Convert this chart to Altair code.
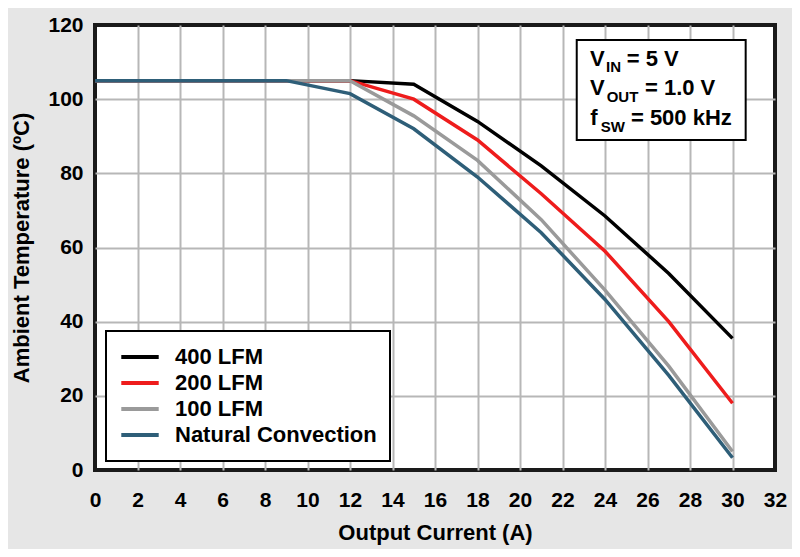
import altair as alt
import pandas as pd

# ---- data ----
current = [0, 3, 6, 9, 12, 15, 18, 21, 24, 27, 30]
lfm400 = [105, 105, 105, 105, 105, 104, 94, 82, 68.5, 53, 35.5]
lfm200 = [105, 105, 105, 105, 105, 100, 89, 74.5, 59, 40, 18]
lfm100 = [105, 105, 105, 105, 105, 95.5, 83.5, 67.5, 48.5, 28, 5]
natural = [105, 105, 105, 105, 101.5, 92, 79, 64, 46, 25.5, 3.3]
series_names = ["400 LFM", "200 LFM", "100 LFM", "Natural Convection"]
series_colors = ["#000000", "#ee1c1c", "#9a9a9a", "#2e5e78"]
x_ticks = list(range(0, 33, 2))
y_ticks = list(range(0, 121, 20))

# annotation box text (main text and subscripts)
ann_text = ["V", "= 5 V", "V", "= 1.0 V", "f", "= 500 kHz"]
ann_x = [23.29, 25.02, 23.29, 25.88, 23.30, 25.22]
ann_y = [109.03, 109.03, 101.12, 101.12, 93.03, 93.03]
sub_text = ["IN", "OUT", "SW"]
sub_x = [24.05, 24.08, 23.80]
sub_y = [107.41, 99.32, 91.07]
box_x = [22.67]
box_x2 = [30.62]
box_y = [89.0]
box_y2 = [115.96]

FONT = "Liberation Sans"

rows = []
for name, vals in zip(series_names, [lfm400, lfm200, lfm100, natural]):
    for xv, yv in zip(current, vals):
        rows.append({"current": xv, "temp": yv, "series": name})
df = pd.DataFrame(rows)

ann_df = pd.DataFrame({"current": ann_x, "temp": ann_y, "txt": ann_text})
sub_df = pd.DataFrame({"current": sub_x, "temp": sub_y, "txt": sub_text})
box_df = pd.DataFrame({"current": box_x, "current2": box_x2, "temp": box_y, "temp2": box_y2})

edge_x = {"condition": {"test": "datum.value == 0 || datum.value == 32", "value": 0}, "value": 1}
edge_y = {"condition": {"test": "datum.value == 0 || datum.value == 120", "value": 0}, "value": 1}

x_enc = alt.X(
    "current:Q",
    scale=alt.Scale(domain=[0, 32], nice=False, zero=False),
    axis=alt.Axis(
        values=x_ticks, title="Output Current (A)", grid=True, ticks=False, tickSize=0,
        domain=False, labelFlush=False, labelPadding=36, labelBaseline="alphabetic",
        labelFont=FONT, labelFontSize=21, labelFontWeight="bold", labelColor="black",
        titleFont=FONT, titleFontSize=22, titleFontWeight="bold", titleColor="black",
        titleY=69, titleBaseline="alphabetic",
        gridColor="#b7b7b7", gridWidth=2, gridOpacity=edge_x,
    ),
)
y_enc = alt.Y(
    "temp:Q",
    scale=alt.Scale(domain=[0, 120], nice=False),
    axis=alt.Axis(
        values=y_ticks, title="Ambient Temperature (ºC)", grid=True, ticks=False, tickSize=0,
        domain=False, labelFlush=False, labelPadding=12,
        labelFont=FONT, labelFontSize=21, labelFontWeight="bold", labelColor="black",
        titleFont=FONT, titleFontSize=22, titleFontWeight="bold", titleColor="black",
        titleX=-67, titleBaseline="alphabetic",
        gridColor="#b7b7b7", gridWidth=2, gridOpacity=edge_y,
    ),
)

lines = alt.Chart(df).mark_line(strokeWidth=3.5).encode(
    x=x_enc,
    y=y_enc,
    color=alt.Color(
        "series:N",
        scale=alt.Scale(domain=series_names, range=series_colors),
        sort=series_names,
        legend=alt.Legend(
            title=None, orient="none", legendX=11, legendY=306, direction="vertical",
            fillColor="white", strokeColor="black", padding=13,
            symbolType="stroke", symbolStrokeWidth=4, symbolSize=1400,
            clipHeight=26, rowPadding=0, labelOffset=14, symbolOffset=0,
            labelFont=FONT, labelFontSize=22, labelFontWeight="bold",
            labelColor="black", labelLimit=400,
        ),
    ),
)

box = alt.Chart(box_df).mark_rect(fill="white", stroke="black", strokeWidth=2).encode(
    x=x_enc, x2="current2:Q", y=y_enc, y2="temp2:Q"
)
main_txt = alt.Chart(ann_df).mark_text(
    align="left", baseline="alphabetic", font=FONT, fontSize=22, fontWeight="bold", color="black"
).encode(x=x_enc, y=y_enc, text="txt:N")
sub_txt = alt.Chart(sub_df).mark_text(
    align="left", baseline="alphabetic", font=FONT, fontSize=15, fontWeight="bold", color="black"
).encode(x=x_enc, y=y_enc, text="txt:N")

chart = (
    alt.layer(lines, box, main_txt, sub_txt)
    .properties(
        width=680, height=445,
        autosize=alt.AutoSizeParams(type="none"),
        padding={"left": 87, "top": 17, "right": 17, "bottom": 79},
        background="#e6e6e6",
    )
    .configure_view(stroke="#1a1a1a", strokeWidth=4, fill="white")
    .configure_legend(strokeWidth=2)
)

chart.save("out.html", embed_options={"renderer": "svg", "actions": False})
